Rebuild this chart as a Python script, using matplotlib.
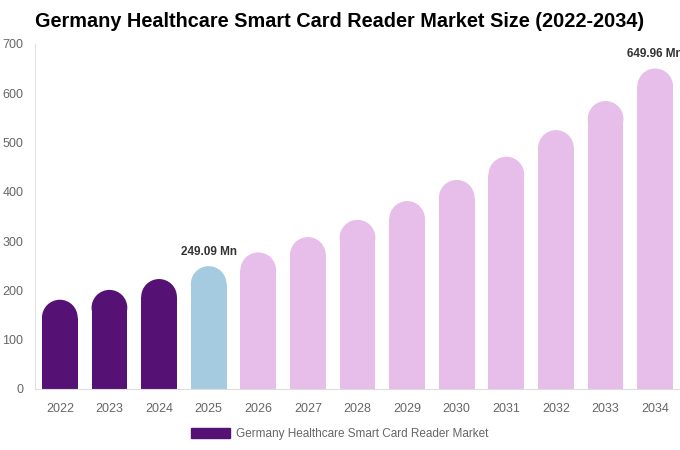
import matplotlib.pyplot as plt
from matplotlib.patches import Ellipse, Patch

plt.rcParams['font.family'] = ['Liberation Sans', 'DejaVu Sans']

# data
years = ['2022', '2023', '2024', '2025', '2026', '2027', '2028',
         '2029', '2030', '2031', '2032', '2033', '2034']
values = [181, 201, 223, 249.09, 277, 308, 343, 381, 424, 471, 525, 584, 649.96]
labels = {3: '249.09 Mn', 12: '649.96 Mn'}

dark = '#551274'
blue = '#A4CBE0'
pink = '#E7BDE9'
colors = [dark] * 3 + [blue] + [pink] * 9

fig = plt.figure(figsize=(6.8, 4.5), dpi=100)
ax = fig.add_axes([0.0515, 0.1356, 0.9485, 0.767])

n = len(years)
width = 0.72
ax.set_xlim(-0.5, n - 0.5)
ax.set_ylim(0, 700)

# size of the rounded cap in data units (radius = half bar width in pixels)
ax_w_px = fig.get_figwidth() * fig.dpi * 0.9485
ax_h_px = fig.get_figheight() * fig.dpi * 0.767
r_px = width / n * ax_w_px / 2
ry = r_px / ax_h_px * 700

for i, v in enumerate(values):
    ax.bar(i, v - ry, width=width, color=colors[i], linewidth=0)
    ax.add_patch(Ellipse((i, v - ry), width, 2 * ry, color=colors[i], linewidth=0))
    if i in labels:
        ax.annotate(labels[i], (i, v), xytext=(0, 6), textcoords='offset points',
                    ha='center', va='bottom', fontsize=8.5, fontweight='bold',
                    color='#333333', annotation_clip=False)

ax.set_xticks(range(n))
ax.set_xticklabels(years)
ax.set_yticks(range(0, 701, 100))
ax.tick_params(length=0, colors='#666666', labelsize=9)
ax.tick_params(axis='x', pad=10)
ax.tick_params(axis='y', pad=8.5)
for s in ['top', 'right']:
    ax.spines[s].set_visible(False)
ax.spines['left'].set_color('#e0e0e0')
ax.spines['bottom'].set_color('#dddddd')

fig.text(0.5, 0.953, 'Germany Healthcare Smart Card Reader Market Size (2022-2034)',
         ha='center', va='center', fontsize=14.3, fontweight='bold', color='#000000')

fig.legend(handles=[Patch(color=dark, label='Germany Healthcare Smart Card Reader Market')],
           loc='center', bbox_to_anchor=(0.5, 0.035), frameon=False, fontsize=8.5,
           handlelength=3.3, handleheight=0.9, labelcolor='#666666', handletextpad=0.5)

fig.savefig('out.png', dpi=100)
